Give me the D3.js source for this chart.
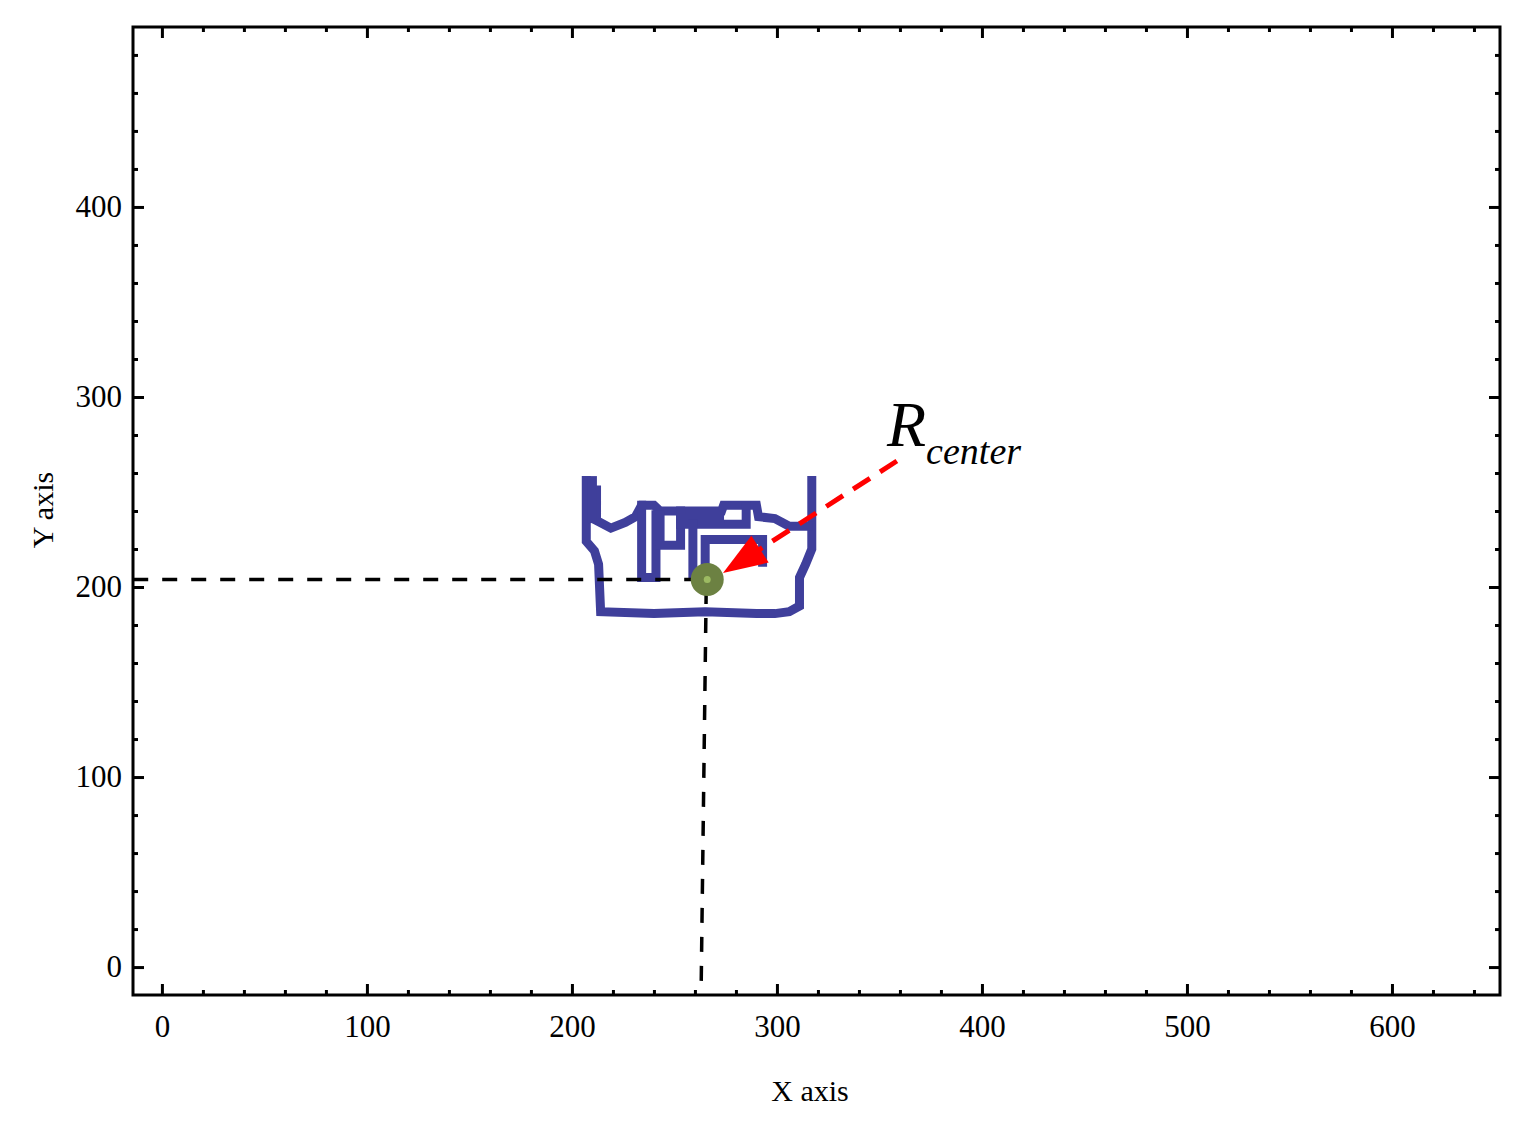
<!DOCTYPE html>
<html>
<head>
<meta charset="utf-8">
<script src="https://cdn.jsdelivr.net/npm/d3@7"></script>
<style>
  body { margin: 0; background: #fff; }
  svg text { font-family: "Liberation Serif", "Times New Roman", serif; }
</style>
</head>
<body>
<div id="chart"></div>
<script>
// tick values
var xTicks = [0, 100, 200, 300, 400, 500, 600];
var yTicks = [0, 100, 200, 300, 400];

// traced contour, in data units
var outerPath = [[207,256],[207,224],[211,219],[213,212],[214,187],[240,186],[265,187],[290,186],[299,186],[306,187],[311,190],[311,205],[314,212],[317,220],[317,256]];
var topPath = [[212,251],[212,235],[219,231],[226,234],[231,237],[234,243],[240,243],[243,240],[253,240],[258,240],[273,240],[274,243],[290,243],[291,237],[299,236],[306,232],[315,232]];
var leftColumn = [[234,243],[234,205],[241,205],[241,238]];
var secondColumn = [[243,238],[243,222],[253,222],[253,240]];
var middleLines = [[253,233],[285,233],[285,242]];
var bandLine = [[253,236],[272,236]];
var postLeft = [[210,256],[210,236]];
var stemLeft = [[259,233],[259,206]];
var lowerRoom = [[265,207],[265,225],[293,225],[293,213]];
var contourParts = [outerPath, topPath, leftColumn, secondColumn, middleLines, bandLine, postLeft, stemLeft, lowerRoom];

var center = [266, 204];
var hGuide = [[-14, 204], [266, 204]];
var vGuide = [[265.5, 199], [263, -14]];
var arrowFrom = [358.5, 266.3];
var arrowTo = [273.7, 207.4];
var labelAt = [353.7, 274.2];

function init() {
    var W = 1527, H = 1127;
    var left = 133, right = 1500, top = 27, bottom = 995;

    var svg = d3.select("#chart").append("svg")
        .attr("width", W)
        .attr("height", H);

    var x = d3.scaleLinear().domain([-14.1, 652.7]).range([left, right]);
    var y = d3.scaleLinear().domain([-14.7, 494.7]).range([bottom, top]);

    var minorX = d3.range(-0, 660, 20).filter(function(v){ return v % 100 != 0; });
    var minorY = d3.range(0, 494, 20).filter(function(v){ return v % 100 != 0; });

    // minor ticks on four sides
    var axes = [
        {a: d3.axisBottom(x), t: "translate(0," + bottom + ")"},
        {a: d3.axisTop(x), t: "translate(0," + top + ")"},
        {a: d3.axisLeft(y), t: "translate(" + left + ",0)"},
        {a: d3.axisRight(y), t: "translate(" + right + ",0)"}
    ];
    axes.forEach(function(o, i) {
        var vals = i < 2 ? minorX : minorY;
        svg.append("g")
            .attr("transform", o.t)
            .call(o.a.tickValues(vals).tickSize(-5).tickFormat(""))
            .call(function(g){ g.select(".domain").remove(); })
            .selectAll("line").attr("stroke", "#000").attr("stroke-width", 3);
    });

    // major ticks
    var majors = [
        {a: d3.axisBottom(x).tickValues(xTicks), t: "translate(0," + bottom + ")", lab: true},
        {a: d3.axisTop(x).tickValues(xTicks), t: "translate(0," + top + ")", lab: false},
        {a: d3.axisLeft(y).tickValues(yTicks), t: "translate(" + left + ",0)", lab: true},
        {a: d3.axisRight(y).tickValues(yTicks), t: "translate(" + right + ",0)", lab: false}
    ];
    majors.forEach(function(o, i) {
        var g = svg.append("g")
            .attr("transform", o.t)
            .call(o.a.tickSize(-11).tickPadding(i == 0 ? 20 : 11).tickFormat(o.lab ? d3.format("d") : ""));
        g.select(".domain").remove();
        g.selectAll("line").attr("stroke", "#000").attr("stroke-width", 3);
        g.selectAll("text")
            .attr("fill", "#000")
            .style("font-size", "31px")
            .style("font-family", "Liberation Serif");
    });

    // frame
    svg.append("rect")
        .attr("x", left).attr("y", top)
        .attr("width", right - left).attr("height", bottom - top)
        .attr("fill", "none")
        .attr("stroke", "#000")
        .attr("stroke-width", 3);

    // contour
    var line = d3.line()
        .x(function(d){ return x(d[0]); })
        .y(function(d){ return y(d[1]); });

    svg.append("g").selectAll("path")
        .data(contourParts)
        .enter()
        .append("path")
        .attr("d", line)
        .attr("fill", "none")
        .attr("stroke", "#3f3f9b")
        .attr("stroke-width", 9)
        .attr("stroke-linejoin", "miter")
        .attr("stroke-linecap", "square");

    // dashed guides
    [hGuide, vGuide].forEach(function(p) {
        svg.append("path")
            .attr("d", line(p))
            .attr("fill", "none")
            .attr("stroke", "#000")
            .attr("stroke-width", 3.5)
            .attr("stroke-dasharray", "15,14");
    });

    // center point
    svg.append("circle")
        .attr("cx", x(center[0])).attr("cy", y(center[1]))
        .attr("r", 16.5)
        .attr("fill", "#6c8142");
    svg.append("circle")
        .attr("cx", x(center[0])).attr("cy", y(center[1]))
        .attr("r", 3.5)
        .attr("fill", "#9cba62");

    // red arrow
    var x0 = x(arrowFrom[0]), y0 = y(arrowFrom[1]);
    var x1 = x(arrowTo[0]), y1 = y(arrowTo[1]);
    var len = Math.sqrt((x1-x0)*(x1-x0) + (y1-y0)*(y1-y0));
    var ux = (x1-x0)/len, uy = (y1-y0)/len;
    var headL = 44, headW = 16;
    var bx = x1 - ux*headL, by = y1 - uy*headL;
    svg.append("line")
        .attr("x1", x0).attr("y1", y0)
        .attr("x2", bx + ux*4).attr("y2", by + uy*4)
        .attr("stroke", "#ff0000")
        .attr("stroke-width", 5)
        .attr("stroke-dasharray", "20,12");
    svg.append("polygon")
        .attr("points", [[x1, y1], [bx - uy*headW, by + ux*headW], [bx + uy*headW, by - ux*headW]].join(" "))
        .attr("fill", "#ff0000");

    // R_center label
    var lab = svg.append("text")
        .attr("x", x(labelAt[0]))
        .attr("y", y(labelAt[1]))
        .style("font-style", "italic")
        .style("font-size", "64px")
        .attr("fill", "#000");
    lab.append("tspan").text("R");
    lab.append("tspan")
        .attr("dy", 18)
        .style("font-size", "38px")
        .text("center");

    // axis titles
    svg.append("text")
        .attr("x", 810)
        .attr("y", 1101)
        .attr("text-anchor", "middle")
        .style("font-size", "30px")
        .text("X axis");
    svg.append("text")
        .attr("text-anchor", "middle")
        .attr("transform", "translate(53,510)rotate(-90)")
        .style("font-size", "30px")
        .text("Y axis");
}
window.onload = init;
</script>
</body>
</html>
